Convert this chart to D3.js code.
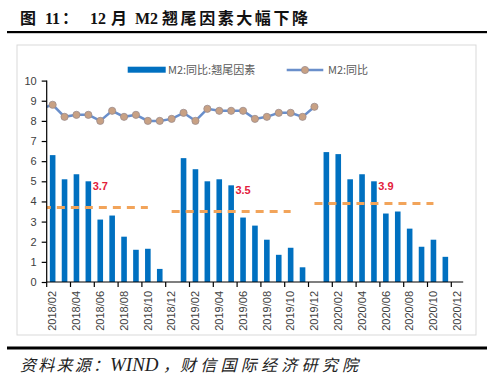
<!DOCTYPE html>
<html><head><meta charset="utf-8">
<script src="https://cdn.jsdelivr.net/npm/d3@7"></script>
<style>body{margin:0;background:#fff}svg{display:block}</style>
</head><body>
<svg id="c" width="500" height="378"></svg>
<script>
// ---- data ----
const hiddenCats = ["2017/12","2018/01"];
const categories = ["2018/02","2018/03","2018/04","2018/05","2018/06","2018/07","2018/08","2018/09","2018/10","2018/11","2018/12",
"2019/01","2019/02","2019/03","2019/04","2019/05","2019/06","2019/07","2019/08","2019/09","2019/10","2019/11","2019/12",
"2020/01","2020/02","2020/03","2020/04","2020/05","2020/06","2020/07","2020/08","2020/09","2020/10","2020/11","2020/12"];
const tickLabels = ["2018/02","2018/04","2018/06","2018/08","2018/10","2018/12","2019/02","2019/04","2019/06","2019/08","2019/10","2019/12",
"2020/02","2020/04","2020/06","2020/08","2020/10","2020/12"];
const baseEffect = [6.3,5.1,5.35,5.0,3.1,3.3,2.25,1.6,1.65,0.65,null,
6.15,5.6,5.0,5.1,4.8,3.2,2.8,2.1,1.35,1.7,0.73,null,
6.45,6.35,5.1,5.35,5.0,3.4,3.5,2.65,1.75,2.1,1.25,null];
const m2Prev = 8.6; // 2018/01
const m2Yoy = [8.8,8.2,8.3,8.3,8.0,8.5,8.2,8.3,8.0,8.0,8.1,
8.4,8.0,8.6,8.5,8.5,8.5,8.1,8.2,8.4,8.4,8.2,8.7];
const avgStart = ["2017/12","2018/12","2019/12"];
const avgEnd = ["2018/10","2019/10","2020/10"];
const avgValues = [3.7,3.5,3.9];
const avgLabelAt = ["2018/05","2019/05","2020/05"];
const yTicks = [0,1,2,3,4,5,6,7,8,9,10];
const seriesNames = ["M2:同比:翘尾因素","M2:同比"];

// ---- chart ----
const svg = d3.select("#c");
const plotL = 46.7, plotR = 463.2, plotT = 80.6, plotB = 282;
const step = (plotR - plotL) / categories.length;
const allCats = hiddenCats.concat(categories);
const x = d3.scaleBand().domain(allCats).range([plotL - hiddenCats.length*step, plotR]).padding(0);
const cx = c => x(c) + x.bandwidth()/2;
const y = d3.scaleLinear().domain([0,10]).range([plotB, plotT]);

const serif = "'Liberation Serif','Noto Sans CJK SC',serif";
const cjk = "'Noto Sans CJK SC',sans-serif";

// title
const tg = svg.append("g").attr("font-weight","bold").attr("font-size",16).attr("fill","#111");
const tparts = [[20,"图",cjk,null],[45,"11",serif,null],[62,"：",cjk,null],[90,"12",serif,null],[111,"月",cjk,null],
  [135,"M2",serif,null],[162,"翘尾因素大幅下降",cjk,146]];
tparts.forEach(p=>{
  const t = tg.append("text").attr("x",p[0]).attr("y",24).attr("font-family",p[2]).text(p[1]);
  if(p[3]) t.attr("textLength",p[3]).attr("lengthAdjust","spacing");
});
svg.append("rect").attr("x",7).attr("y",31).attr("width",480).attr("height",2.2).attr("fill","#000");

// frame
svg.append("rect").attr("x",17).attr("y",45).attr("width",459).attr("height",290)
  .attr("fill","#fff").attr("stroke","#d9d9d9").attr("stroke-width",1);

// clip
svg.append("defs").append("clipPath").attr("id","pc").append("rect")
  .attr("x",plotL).attr("y",plotT-20).attr("width",plotR-plotL).attr("height",plotB-plotT+20);

// bars
const barW = 5.6;
svg.append("g").selectAll("rect").data(categories.map((c,i)=>({c,v:baseEffect[i]})).filter(d=>d.v!=null))
  .join("rect").attr("x",d=>cx(d.c)-barW/2).attr("y",d=>y(d.v)).attr("width",barW)
  .attr("height",d=>y(0)-y(d.v)).attr("fill","#0070C0");

// average dashed lines
const gAvg = svg.append("g").attr("clip-path","url(#pc)");
avgValues.forEach((v,i)=>{
  gAvg.append("line").attr("x1",cx(avgStart[i])).attr("x2",cx(avgEnd[i]))
    .attr("y1",y(v)).attr("y2",y(v)).attr("stroke","#F2A45A").attr("stroke-width",3)
    .attr("stroke-dasharray","8,6");
  const bi = categories.indexOf(avgLabelAt[i]);
  svg.append("text").attr("x",cx(avgLabelAt[i])+barW/2+1.5).attr("y",y(baseEffect[bi])+9)
    .attr("font-family","'Liberation Sans',Arial,sans-serif").attr("font-weight","bold")
    .attr("font-size",11).attr("fill","#E3203C").text(v.toFixed(1));
});

// line series
const linePts = [{c:"2018/01",v:m2Prev}].concat(m2Yoy.map((v,i)=>({c:categories[i],v})));
const line = d3.line().x(d=>cx(d.c)).y(d=>y(d.v));
svg.append("path").datum(linePts).attr("clip-path","url(#pc)").attr("d",line)
  .attr("fill","none").attr("stroke","#6A8FCB").attr("stroke-width",2.5);
svg.append("g").selectAll("circle").data(linePts.slice(1)).join("circle")
  .attr("cx",d=>cx(d.c)).attr("cy",d=>y(d.v)).attr("r",3.6)
  .attr("fill","#C8A184").attr("stroke","#9C8C8C").attr("stroke-width",0.8);

// y axis
const gy = svg.append("g").attr("transform",`translate(${plotL},0)`)
  .call(d3.axisLeft(y).tickValues(yTicks).tickSize(5).tickPadding(5).tickFormat(d3.format("d")));
gy.select(".domain").attr("stroke","#000").attr("stroke-width",1.2).attr("d",`M0,${plotT}V${plotB}`);
gy.selectAll(".tick line").attr("stroke","#000").attr("stroke-width",1.2);
gy.selectAll(".tick text").attr("font-family","'Liberation Sans',Arial,sans-serif").attr("font-size",11).attr("fill","#404040");

// x axis
const gx = svg.append("g");
gx.append("line").attr("x1",plotL).attr("x2",plotR).attr("y1",plotB).attr("y2",plotB).attr("stroke","#000").attr("stroke-width",1.2);
gx.selectAll("line.t").data(tickLabels).join("line").attr("class","t")
  .attr("x1",d=>x(d)).attr("x2",d=>x(d)).attr("y1",plotB).attr("y2",plotB+5)
  .attr("stroke","#000").attr("stroke-width",1.2);
gx.selectAll("text").data(tickLabels).join("text")
  .attr("transform",d=>`translate(${cx(d)+3.8},${plotB+9}) rotate(-90)`)
  .attr("text-anchor","end").attr("font-family","'Liberation Sans',Arial,sans-serif")
  .attr("font-size",11).attr("fill","#404040").text(d=>d);

// legend
const lg = svg.append("g").attr("font-family","'Noto Sans CJK SC','Liberation Sans',sans-serif").attr("font-size",11).attr("fill","#595959");
lg.append("rect").attr("x",127.7).attr("y",66.7).attr("width",38).attr("height",6).attr("fill","#0070C0");
lg.append("text").attr("x",168).attr("y",74).text(seriesNames[0]);
lg.append("line").attr("x1",286.7).attr("x2",323.3).attr("y1",70).attr("y2",70).attr("stroke","#6A8FCB").attr("stroke-width",2.5);
lg.append("circle").attr("cx",305).attr("cy",70).attr("r",3.6).attr("fill","#C8A184").attr("stroke","#9C8C8C").attr("stroke-width",0.8);
lg.append("text").attr("x",328).attr("y",74).text(seriesNames[1]);

// bottom rule and source
svg.append("rect").attr("x",7).attr("y",346.5).attr("width",480).attr("height",3).attr("fill","#000");
const sg = svg.append("g").attr("font-style","italic").attr("fill","#222");
const sparts = [[20,"资料来源：",cjk,16,89],[110,"WIND",serif,19,null],[163,"，",cjk,16,null],[180,"财信国际经济研究院",cjk,16,178]];
sparts.forEach(p=>{
  const t = sg.append("text").attr("x",p[0]).attr("y",371).attr("font-family",p[2]).attr("font-size",p[3]).text(p[1]);
  if(p[4]) t.attr("textLength",p[4]).attr("lengthAdjust","spacing");
});
</script>
</body></html>
